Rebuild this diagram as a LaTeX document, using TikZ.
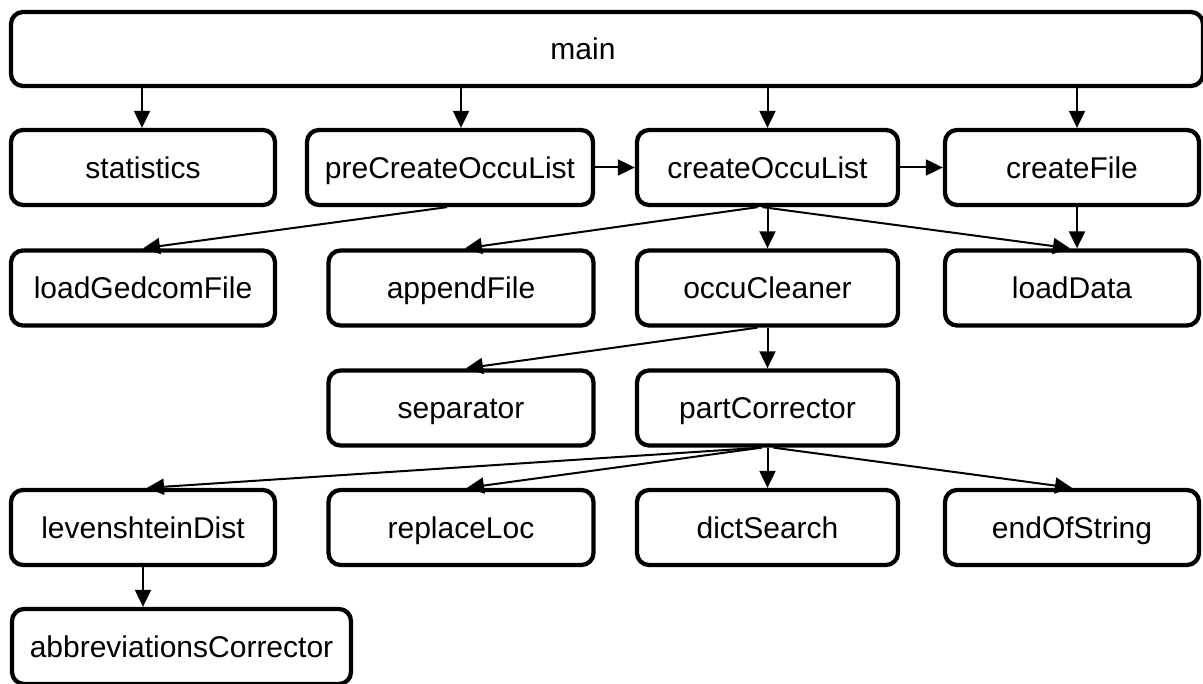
\documentclass[tikz,border=0pt]{standalone}
\usepackage{fontspec}
\setmainfont{Liberation Sans}
\usetikzlibrary{arrows.meta}
\begin{document}
\begin{tikzpicture}[x=1pt,y=-1pt,
  box/.style={draw=black, line width=4.3pt, rounded corners=12pt, minimum height=75pt,
    inner sep=0pt, fill=white, text height=24.5pt, text depth=3.3pt,
    font=\fontsize{30}{36}\selectfont},
  arr/.style={line width=2pt, -{Triangle[length=17pt,width=16pt]}}]
\useasboundingbox (0,0) rectangle (1203,684);
\clip (0,0) rectangle (1203,684);
% top
\node[box, minimum width=1192pt, minimum height=74pt] (main) at (607,49) {main\hspace*{48pt}};
% row 1
\node[box, minimum width=264pt] (stat) at (143,167.5) {statistics};
\node[box, minimum width=286pt] (pre) at (450,167.5) {preCreateOccuList};
\node[box, minimum width=261pt] (cocc) at (767.5,167.5) {createOccuList};
\node[box, minimum width=254pt] (cfile) at (1072,167.5) {createFile};
% row 2
\node[box, minimum width=264pt] (lged) at (143,288) {loadGedcomFile};
\node[box, minimum width=265pt] (app) at (461,288) {appendFile};
\node[box, minimum width=261pt] (occ) at (767.5,288) {occuCleaner};
\node[box, minimum width=254pt] (ldata) at (1072,288) {loadData};
% row 3
\node[box, minimum width=265pt] (sep) at (461,408) {separator};
\node[box, minimum width=261pt] (part) at (767.5,408) {partCorrector};
% row 4
\node[box, minimum width=264pt] (lev) at (143,527.5) {levenshteinDist};
\node[box, minimum width=265pt] (rep) at (461,527.5) {replaceLoc};
\node[box, minimum width=261pt] (dict) at (767.5,527.5) {dictSearch};
\node[box, minimum width=254pt] (eos) at (1072,527.5) {endOfString};
% row 5
\node[box, minimum width=339pt] (abbr) at (181.5,646.5) {abbreviationsCorrector};
% connectors
\draw[arr] ([xshift=-1pt]stat.north |- main.south) -- ([xshift=-1pt]stat.north);
\draw[arr] (app.north |- main.south) -- (app.north |- pre.north);
\draw[arr] (cocc.north |- main.south) -- (cocc.north);
\draw[arr] ([xshift=5pt]cfile.north |- main.south) -- ([xshift=5pt]cfile.north);
\draw[arr] (pre.east) -- (cocc.west);
\draw[arr] (cocc.east) -- (cfile.west);
\draw[arr] ([xshift=-3pt]pre.south) -- (lged.north);
\draw[arr] ([xshift=-10pt]cocc.south) -- ([xshift=4pt]app.north);
\draw[arr] (cocc.south) -- (occ.north);
\draw[arr] ([xshift=-5pt]cocc.south) -- ([xshift=-2pt]ldata.north);
\draw[arr] ([xshift=5pt]cfile.south) -- ([xshift=5pt]ldata.north);
\draw[arr] ([xshift=-10pt]occ.south) -- ([xshift=5pt]sep.north);
\draw[arr] (occ.south) -- (part.north);
\draw[arr] ([xshift=-6pt]part.south) -- ([xshift=4pt]lev.north);
\draw[arr] ([xshift=-6pt]part.south) -- ([xshift=6pt]rep.north);
\draw[arr] (part.south) -- (dict.north);
\draw[arr] ([xshift=6pt]part.south) -- (eos.north);
\draw[arr] (lev.south) -- (abbr.north -| lev.south);
\end{tikzpicture}
\end{document}
